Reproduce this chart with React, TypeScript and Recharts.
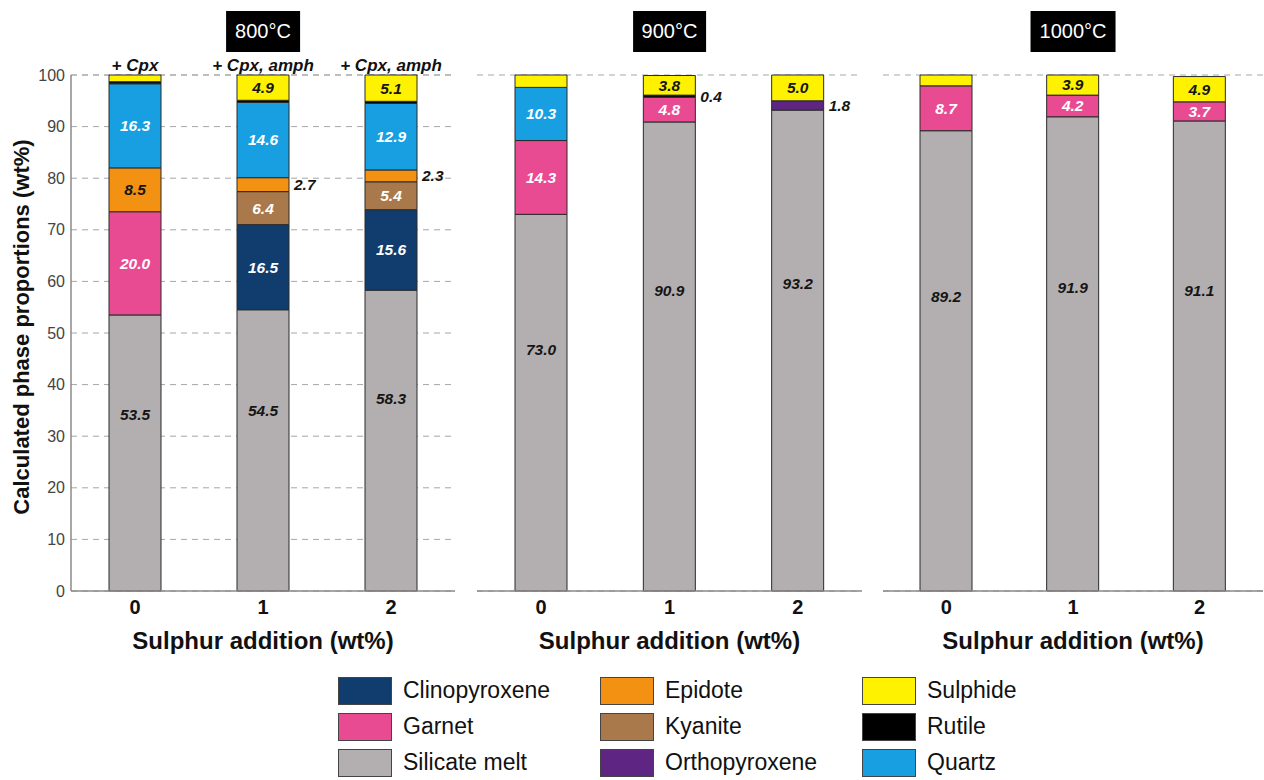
import React from 'react';
import { BarChart, Bar, XAxis, YAxis, CartesianGrid, LabelList } from 'recharts';

// ---------- data ----------
const panelTitles = ['800°C', '900°C', '1000°C'];
const sulphurAddition = ['0', '1', '2'];
const assemblageNotes800 = ['+ Cpx', '+ Cpx, amph', '+ Cpx, amph'];
const yTicks = [0, 10, 20, 30, 40, 50, 60, 70, 80, 90, 100];

// values in order: 800°C (0,1,2), 900°C (0,1,2), 1000°C (0,1,2)
const silicateMelt = [53.5, 54.5, 58.3, 73.0, 90.9, 93.2, 89.2, 91.9, 91.1];
const clinopyroxene = [0, 16.5, 15.6, 0, 0, 0, 0, 0, 0];
const garnet = [20.0, 0, 0, 14.3, 4.8, 0, 8.7, 4.2, 3.7];
const kyanite = [0, 6.4, 5.4, 0, 0, 0, 0, 0, 0];
const epidote = [8.5, 2.7, 2.3, 0, 0, 0, 0, 0, 0];
const orthopyroxene = [0, 0, 0, 0, 0, 1.8, 0, 0, 0];
const quartz = [16.3, 14.6, 12.9, 10.3, 0, 0, 0, 0, 0];
const rutile = [0.4, 0.4, 0.4, 0, 0.4, 0, 0, 0, 0];
const sulphide = [1.3, 4.9, 5.1, 2.4, 3.8, 5.0, 2.1, 3.9, 4.9];

// cells whose value is not printed (key:globalIndex)
const unlabelledCells = ['sulphide:0', 'rutile:0', 'rutile:1', 'rutile:2', 'sulphide:3', 'sulphide:6'];

// stacking order bottom -> top
const phases = [
  { key: 'melt', name: 'Silicate melt', values: silicateMelt, color: '#b3afb0', text: '#151515' },
  { key: 'cpx', name: 'Clinopyroxene', values: clinopyroxene, color: '#113d6e', text: '#ffffff' },
  { key: 'garnet', name: 'Garnet', values: garnet, color: '#e94b92', text: '#ffffff' },
  { key: 'kyanite', name: 'Kyanite', values: kyanite, color: '#a9794b', text: '#ffffff' },
  { key: 'epidote', name: 'Epidote', values: epidote, color: '#f39113', text: '#151515' },
  { key: 'opx', name: 'Orthopyroxene', values: orthopyroxene, color: '#5f2583', text: '#ffffff' },
  { key: 'quartz', name: 'Quartz', values: quartz, color: '#179fe1', text: '#ffffff' },
  { key: 'rutile', name: 'Rutile', values: rutile, color: '#000000', text: '#ffffff' },
  { key: 'sulphide', name: 'Sulphide', values: sulphide, color: '#fff200', text: '#151515' },
];

const legendOrder = [
  'Clinopyroxene', 'Garnet', 'Silicate melt',
  'Epidote', 'Kyanite', 'Orthopyroxene',
  'Sulphide', 'Rutile', 'Quartz',
];

// ---------- layout ----------
const FONT = "'Liberation Sans', Arial, Helvetica, sans-serif";
const PLOT_TOP = 75;
const CHART_H = 656;
const X_AXIS_H = 60;

const panelLayout = [
  { left: 0, width: 460, marginLeft: 21, marginRight: 5, yWidth: 50 },
  { left: 470, width: 398, marginLeft: 7, marginRight: 6, yWidth: 0 },
  { left: 876, width: 388, marginLeft: 7, marginRight: 1, yWidth: 0 },
];

function rectOf(props: any) {
  const vb = props.viewBox || {};
  const x = props.x ?? vb.x;
  const y = props.y ?? vb.y;
  const width = props.width ?? vb.width;
  const height = props.height ?? vb.height;
  const top = height < 0 ? y + height : y;
  return { x, top, width, h: Math.abs(height) };
}

function makeLabel(phase: any) {
  return (props: any) => {
    const gi = Number(props.value);
    const value = phase.values[gi];
    if (!value || value <= 0) return null;
    if (unlabelledCells.includes(`${phase.key}:${gi}`)) return null;
    const { x, top, width, h } = rectOf(props);
    const txt = value.toFixed(1);
    const style = { fontFamily: FONT, fontWeight: 700, fontStyle: 'italic' as const, fontSize: 15.5 };
    if (value < 3) {
      return (
        <text x={x + width + 5} y={top + h / 2} dy="0.35em" textAnchor="start" fill="#151515" style={style}>
          {txt}
        </text>
      );
    }
    const cy = phase.key === 'melt' ? top + h * 0.36 : top + h / 2;
    return (
      <text x={x + width / 2} y={cy} dy="0.35em" textAnchor="middle" fill={phase.text} style={style}>
        {txt}
      </text>
    );
  };
}

const noteLabel = (props: any) => {
  if (!props.value) return null;
  const { x, top, width } = rectOf(props);
  return (
    <text
      x={x + width / 2}
      y={top - 4}
      textAnchor="middle"
      fill="#111"
      style={{ fontFamily: FONT, fontWeight: 700, fontStyle: 'italic', fontSize: 17 }}
    >
      {props.value}
    </text>
  );
};

function Panel({ p }: { p: number }) {
  const L = panelLayout[p];
  const data = sulphurAddition.map((s, i) => {
    const row: any = { s, gi: p * 3 + i, note: p === 0 ? assemblageNotes800[i] : '' };
    phases.forEach((ph) => {
      row[ph.key] = ph.values[p * 3 + i];
    });
    return row;
  });
  return (
    <div style={{ position: 'absolute', left: L.left, top: 0 }}>
      <BarChart
        width={L.width}
        height={CHART_H}
        data={data}
        barSize={52}
        margin={{ top: PLOT_TOP, right: L.marginRight, left: L.marginLeft, bottom: 5 }}
      >
        <CartesianGrid vertical={false} stroke="#a6a6a6" strokeDasharray="6 5" />
        <XAxis
          dataKey="s"
          axisLine={{ stroke: '#8a8a8a', strokeWidth: 1.5 }}
          tickLine={false}
          tickSize={0}
          tickMargin={9}
          height={X_AXIS_H}
          interval={0}
          tick={{ fontSize: 20, fontWeight: 700, fill: '#111', fontFamily: FONT }}
          label={{
            value: 'Sulphur addition (wt%)',
            position: 'insideBottom',
            offset: 2,
            style: { fontSize: 24, fontWeight: 700, fill: '#111', fontFamily: FONT },
          }}
        />
        <XAxis
          xAxisId="top"
          orientation="top"
          dataKey="s"
          height={0}
          axisLine={{ stroke: '#8a8a8a', strokeWidth: 1.5 }}
          tickLine={false}
          tick={false}
        />
        <YAxis
          domain={[0, 100]}
          ticks={yTicks}
          interval={0}
          width={L.yWidth}
          axisLine={{ stroke: '#8a8a8a', strokeWidth: 1.5 }}
          tickLine={false}
          tickSize={0}
          tickMargin={6}
          tick={p === 0 ? { fontSize: 16, fill: '#444', fontFamily: FONT } : false}
        />
        <YAxis
          yAxisId="right"
          orientation="right"
          domain={[0, 100]}
          width={0}
          axisLine={{ stroke: '#8a8a8a', strokeWidth: 1.5 }}
          tickLine={false}
          tick={false}
        />
        {phases.map((ph) => (
          <Bar
            key={ph.key}
            dataKey={ph.key}
            name={ph.name}
            stackId="a"
            fill={ph.color}
            stroke="#2a2a2a"
            strokeWidth={1}
            isAnimationActive={false}
          >
            <LabelList dataKey={(row: any) => String(row.gi)} content={makeLabel(ph)} />
            {ph.key === 'sulphide' && <LabelList dataKey="note" content={noteLabel} />}
          </Bar>
        ))}
      </BarChart>
    </div>
  );
}

function Title({ text, center }: { text: string; center: number }) {
  return (
    <div
      style={{
        position: 'absolute',
        left: center,
        top: 11,
        height: 41,
        transform: 'translateX(-50%)',
        background: '#000',
        color: '#fff',
        fontFamily: FONT,
        fontSize: 20,
        lineHeight: '41px',
        padding: '0 9px',
        whiteSpace: 'nowrap',
      }}
    >
      {text}
    </div>
  );
}

function Legend() {
  const colLeft = [338, 600, 862];
  const rowTop = [676, 712, 748];
  return (
    <>
      {legendOrder.map((name, i) => {
        const ph = phases.find((q) => q.name === name)!;
        const c = Math.floor(i / 3);
        const r = i % 3;
        return (
          <div key={name} style={{ position: 'absolute', left: colLeft[c], top: rowTop[r], height: 29, display: 'flex', alignItems: 'center' }}>
            <div style={{ width: 54, height: 28, background: ph.color, border: '1px solid #444', boxSizing: 'border-box' }} />
            <span style={{ marginLeft: 11, fontFamily: FONT, fontSize: 23, color: '#111', whiteSpace: 'nowrap' }}>{name}</span>
          </div>
        );
      })}
    </>
  );
}

export default function App() {
  const centers = [263, 669.5, 1073];
  return (
    <div style={{ position: 'absolute', left: 0, top: 0, width: 1264, height: 780, background: '#fff', overflow: 'hidden', fontFamily: FONT }}>
      {[0, 1, 2].map((p) => (
        <Panel key={p} p={p} />
      ))}
      {panelTitles.map((t, i) => (
        <Title key={t} text={t} center={centers[i]} />
      ))}
      <div
        style={{
          position: 'absolute',
          left: 22,
          top: 327,
          transform: 'translate(-50%, -50%) rotate(-90deg)',
          fontFamily: FONT,
          fontWeight: 700,
          fontSize: 22,
          color: '#111',
          whiteSpace: 'nowrap',
        }}
      >
        Calculated phase proportions (wt%)
      </div>
      <Legend />
    </div>
  );
}
